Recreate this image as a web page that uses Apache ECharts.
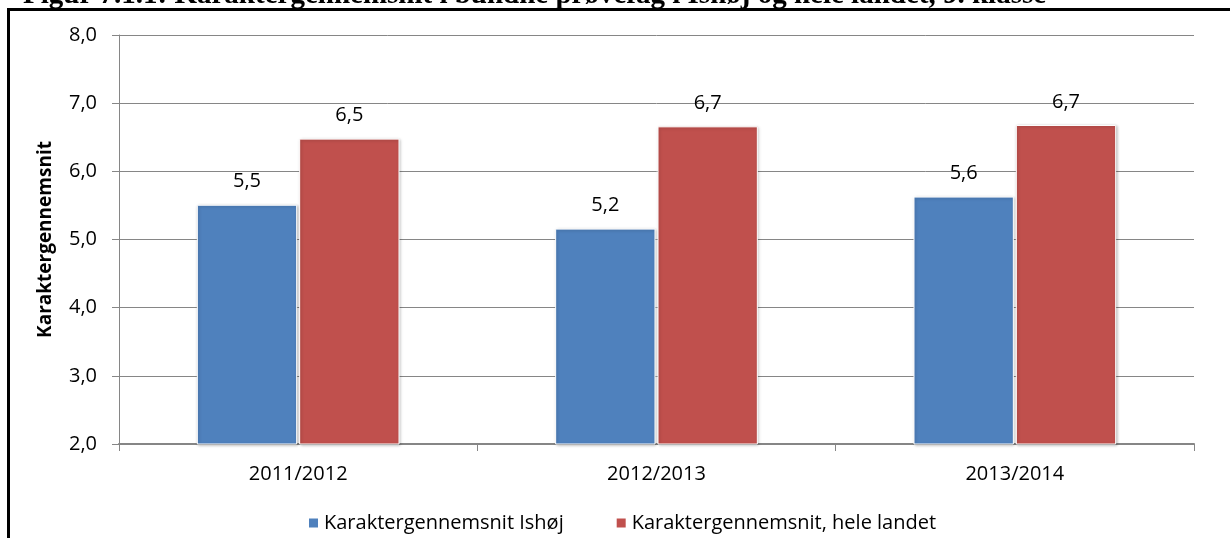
<!DOCTYPE html>
<html>
<head>
<meta charset="utf-8">
<script src="https://cdn.jsdelivr.net/npm/echarts@6/dist/echarts.min.js"></script>
<style>html,body{margin:0;padding:0;background:#fff;}#c{width:1230px;height:538px;}</style>
</head>
<body>
<div id="c"></div>
<script>
const categories = ['2011/2012', '2012/2013', '2013/2014'];
const ishoj = [5.51, 5.16, 5.63];
const landet = [6.48, 6.66, 6.68];
const seriesNames = ['Karaktergennemsnit Ishøj', 'Karaktergennemsnit, hele landet'];
const yAxisTitle = 'Karaktergennemsnit';
const figTitle = 'Figur 7.1.1: Karaktergennemsnit i bundne prøvefag i Ishøj og hele landet, 9. klasse';

const font = "'Open Sans', 'Noto Sans', sans-serif";
const fmt = v => v.toFixed(1).replace('.', ',');
const chart = echarts.init(document.getElementById('c'));
const barStyle = (color) => ({
  color: color,
  borderColor: '#ffffff',
  borderWidth: 1,
  shadowColor: 'rgba(0,0,0,0.25)',
  shadowBlur: 3,
  shadowOffsetX: 1,
  shadowOffsetY: 1
});
chart.setOption({
  animation: false,
  title: {
    text: figTitle,
    left: 18,
    top: -24,
    textStyle: { fontFamily: "'Liberation Serif', serif", fontSize: 29, fontWeight: 'bold', color: '#000' }
  },
  graphic: [
    { type: 'line', z: 100, shape: { x1: 7, y1: 9.5, x2: 1230, y2: 9.5 }, style: { stroke: '#000', lineWidth: 3 } },
    { type: 'line', z: 100, shape: { x1: 8.5, y1: 8, x2: 8.5, y2: 538 }, style: { stroke: '#000', lineWidth: 3 } }
  ],
  grid: { left: 119, right: 36, top: 35, bottom: 94, containLabel: false },
  legend: {
    top: 508,
    left: 302,
    itemWidth: 11,
    itemHeight: 11,
    itemGap: 51,
    icon: 'rect',
    textStyle: { fontFamily: font, fontSize: 20, color: '#000' },
    data: seriesNames
  },
  xAxis: {
    type: 'category',
    data: categories,
    axisLine: { lineStyle: { color: '#868686', width: 2 } },
    axisTick: { show: true, length: 7, lineStyle: { color: '#868686', width: 1 } },
    axisLabel: { fontFamily: font, fontSize: 20, color: '#000', margin: 20 }
  },
  yAxis: {
    type: 'value',
    min: 2, max: 8, interval: 1,
    name: yAxisTitle,
    nameLocation: 'middle',
    nameGap: 64,
    nameTextStyle: { fontFamily: font, fontSize: 19, fontWeight: 'bold', color: '#000' },
    axisLine: { show: true, lineStyle: { color: '#868686', width: 1 } },
    axisTick: { show: true, length: 7, inside: false, lineStyle: { color: '#868686' } },
    axisLabel: { fontFamily: font, fontSize: 20, color: '#000', margin: 22, formatter: fmt },
    splitLine: { lineStyle: { color: '#868686', width: 1 } }
  },
  series: [
    {
      name: seriesNames[0], type: 'bar', data: ishoj,
      barWidth: '28%', barGap: '2%',
      itemStyle: barStyle('#4f81bd'),
      label: { show: true, position: 'top', distance: 13, formatter: p => fmt(p.value), fontFamily: font, fontSize: 20, color: '#000' }
    },
    {
      name: seriesNames[1], type: 'bar', data: landet,
      barWidth: '28%', barGap: '2%',
      itemStyle: barStyle('#c0504d'),
      label: { show: true, position: 'top', distance: 13, formatter: p => fmt(p.value), fontFamily: font, fontSize: 20, color: '#000' }
    }
  ]
});
</script>
</body>
</html>
